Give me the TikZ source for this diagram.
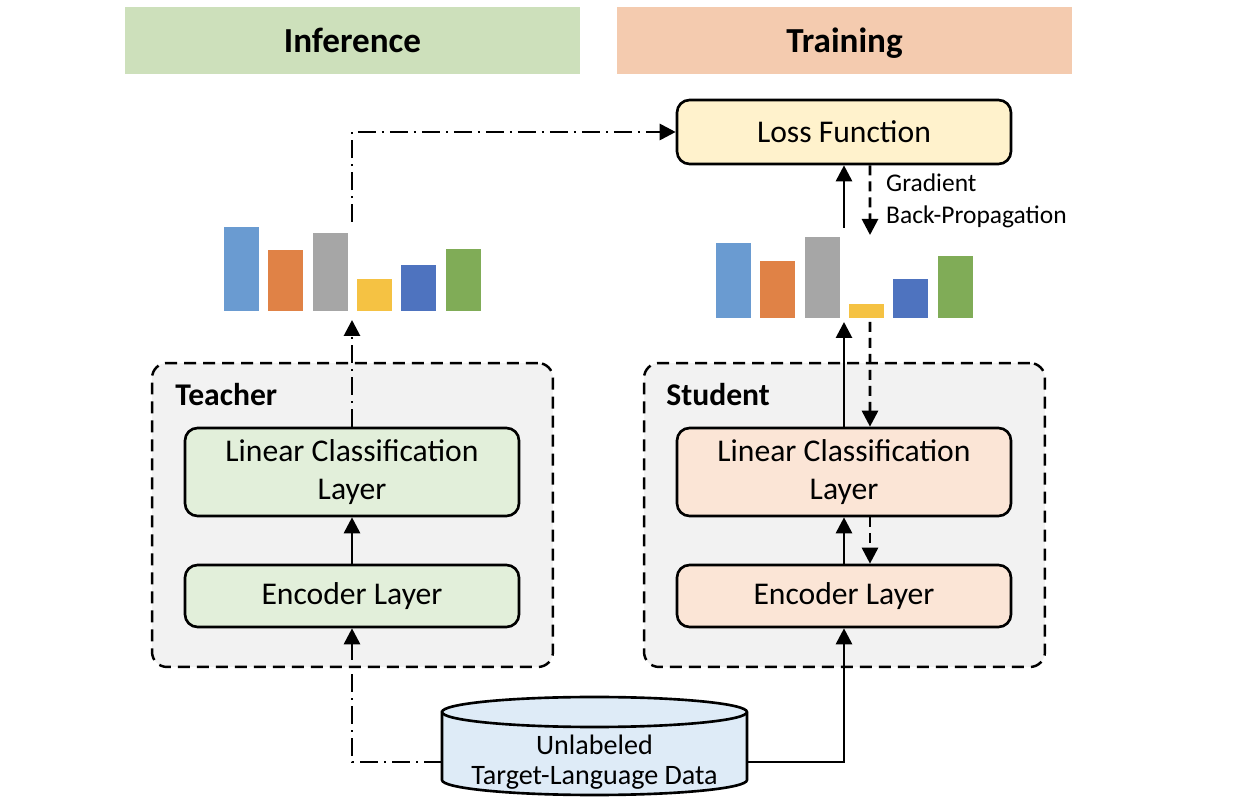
\documentclass[tikz,border=0pt]{standalone}
\usepackage{fontspec}
\setmainfont{Carlito}
\usetikzlibrary{arrows.meta}
\definecolor{infgreen}{HTML}{CDE0BB}
\definecolor{trnpeach}{HTML}{F4CBAF}
\definecolor{lossyellow}{HTML}{FFF2CC}
\definecolor{tgreen}{HTML}{E2EFDA}
\definecolor{speach}{HTML}{FBE5D6}
\definecolor{framegray}{HTML}{F2F2F2}
\definecolor{datablue}{HTML}{DEEBF7}
\definecolor{barA}{HTML}{6A9BD1}
\definecolor{barB}{HTML}{E08246}
\definecolor{barC}{HTML}{A6A6A6}
\definecolor{barD}{HTML}{F5C243}
\definecolor{barE}{HTML}{4E73BF}
\definecolor{barF}{HTML}{80AC57}
\begin{document}
\begin{tikzpicture}[x=0.02cm,y=0.02cm,
	box/.style={draw,line width=1.5pt,rounded corners=0.25cm,minimum width=6.68cm,align=center,font=\fontsize{18}{22}\selectfont},
	frame/.style={draw,dash pattern=on 0.24cm off 0.14cm,line width=1.4pt,rounded corners=0.3cm,fill=framegray,minimum width=8.02cm,minimum height=6.08cm},
	banner/.style={minimum width=9.1cm,minimum height=1.34cm,text height=17.5pt,text depth=4pt,font=\fontsize{20}{24}\selectfont\bfseries},
	arr/.style={-{Triangle[length=0.32cm,width=0.32cm]},line width=1.6pt},
	dashdot/.style={dash pattern=on 0.36cm off 0.12cm on 0.04cm off 0.12cm},
	backdash/.style={dash pattern=on 0.2cm off 0.12cm}]
	\useasboundingbox (0,0) rectangle (1242,802);
	% headers
	\node[banner,fill=infgreen] (inf) at (352.5,761.5) {Inference};
	\node[banner,fill=trnpeach] (trn) at (844.5,761.5) {Training};
	% teacher and student
	\node[frame] (tframe) at (352.5,287) {};
	\node[frame] (sframe) at (844.5,287) {};
	\node[anchor=west,inner sep=0pt,font=\fontsize{18}{22}\selectfont\bfseries] (tname) at (175,407) {Teacher};
	\node[anchor=west,inner sep=0pt,font=\fontsize{18}{22}\selectfont\bfseries] (sname) at (666,407) {Student};
	\node[box,fill=tgreen,minimum height=1.76cm] (tlin) at (352,330) {Linear Classification\\Layer};
	\node[box,fill=tgreen,minimum height=1.24cm] (tenc) at (352,206) {Encoder Layer};
	\node[box,fill=speach,minimum height=1.76cm] (slin) at (844,330) {Linear Classification\\Layer};
	\node[box,fill=speach,minimum height=1.24cm] (senc) at (844,206) {Encoder Layer};
	\node[box,fill=lossyellow,minimum height=1.28cm] (loss) at (844,670) {Loss Function};
	% output distributions
	\foreach \i/\h/\c in {0/84/barA,1/61/barB,2/78/barC,3/32/barD,4/46/barE,5/62/barF}
		\fill[\c] (224+\i*44.3,491) rectangle ++(35,\h);
	\foreach \i/\h/\c in {0/75/barA,1/57/barB,2/81/barC,3/14/barD,4/39/barE,5/62/barF}
		\fill[\c] (716+\i*44.3,484) rectangle ++(35,\h);
	% data
	\draw[line width=1.5pt,fill=datablue] (442,90) -- (442,22) arc[start angle=180,end angle=360,x radius=152.5,y radius=15] -- (747,90) arc[start angle=0,end angle=180,x radius=152.5,y radius=15] -- cycle;
	\draw[line width=1.5pt] (442,90) arc[start angle=180,end angle=360,x radius=152.5,y radius=15];
	\node[minimum width=6.1cm,align=center,font=\fontsize{16}{17}\selectfont] (data) at (594.5,40) {Unlabeled\\Target-Language Data};
	\node[anchor=west,align=left,font=\fontsize{14.5}{18}\selectfont] (grad) at (880,601) {Gradient\\Back-Propagation};
	\coordinate (tout) at (352,482);
	\coordinate (tup) at (352,580);
	\coordinate (sout) at (844,480);
	\coordinate (sup) at (844,574);
	\coordinate (gin) at (870,567);
	\coordinate (gout) at (870,480);
	% teacher flow
	\draw[arr,dashdot] (data.west) -| (tenc.south);
	\draw[arr] (tenc.north) -- (tlin.south);
	\draw[arr,dashdot] (tlin.north) -- (tout);
	\draw[arr,dashdot] (tup) |- (loss.west);
	% student flow
	\draw[arr] (data.east) -| (senc.south);
	\draw[arr] (senc.north) -- (slin.south);
	\draw[arr] (slin.north) -- (sout);
	\draw[arr] (sup) -- (loss.south);
	\draw[arr,backdash] ([xshift=0.52cm]loss.south) -- (gin);
	\draw[arr,backdash] (gout) -- ([xshift=0.52cm]slin.north);
	\draw[arr,backdash] ([xshift=0.52cm]slin.south) -- ([xshift=0.52cm]senc.north);
\end{tikzpicture}
\end{document}
